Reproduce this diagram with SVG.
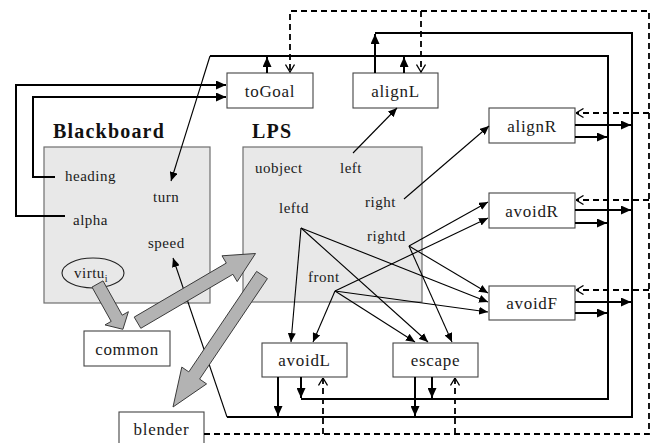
<svg xmlns="http://www.w3.org/2000/svg" width="658" height="443" viewBox="0 0 658 443">
  <style>
    .panel { fill: #e8e8e8; stroke: #6e6e6e; stroke-width: 1.2; }
    .node rect { fill: #ffffff; stroke: #444444; stroke-width: 1.1; }
    .node text { font-family: "Liberation Serif", "Times New Roman", serif; font-size: 17px; letter-spacing: 0.7px; fill: #1a1a1a; text-anchor: middle; }
    .title { font-family: "Liberation Serif", "Times New Roman", serif; font-size: 20px; letter-spacing: 1.2px; font-weight: bold; fill: #111; }
    .var { font-family: "Liberation Serif", "Times New Roman", serif; font-size: 15px; letter-spacing: 0.5px; fill: #1a1a1a; }
    .thick { fill: none; stroke: #000; stroke-width: 2; }
    .thin { fill: none; stroke: #000; stroke-width: 1.1; }
    .dash { fill: none; stroke: #000; stroke-width: 1.8; stroke-dasharray: 6 4; }
    .big { fill: #b3b3b3; stroke: #3a3a3a; stroke-width: 1; }
  </style>
  <defs>
    <marker id="ah" markerUnits="userSpaceOnUse" markerWidth="10" markerHeight="9" refX="10" refY="4.5" orient="auto">
      <path d="M0,0 L10,4.5 L0,9 z" fill="#000"/>
    </marker>
    <marker id="ahs" markerUnits="userSpaceOnUse" markerWidth="9" markerHeight="8" refX="9" refY="4" orient="auto">
      <path d="M0,0 L9,4 L0,8 z" fill="#000"/>
    </marker>
    <marker id="oa" markerUnits="userSpaceOnUse" markerWidth="9" markerHeight="10" refX="8.5" refY="5" orient="auto">
      <path d="M1,0.5 L8.5,5 L1,9.5" fill="none" stroke="#000" stroke-width="1.3"/>
    </marker>
  </defs>

  <!-- shared memory panels -->
  <g id="blackboard">
    <rect class="panel" x="44" y="147" width="166" height="156"/>
    <text class="title" x="53" y="138">Blackboard</text>
    <text class="var" x="65" y="181">heading</text>
    <text class="var" x="153" y="202">turn</text>
    <text class="var" x="73" y="225">alpha</text>
    <text class="var" x="148" y="248">speed</text>
    <ellipse cx="93" cy="273" rx="31" ry="15" fill="none" stroke="#222" stroke-width="1.1"/>
    <text class="var" x="74" y="278">virtu<tspan font-size="10" dy="4">i</tspan></text>
  </g>
  <g id="lps">
    <rect class="panel" x="243" y="147" width="179" height="155"/>
    <text class="title" x="252" y="138">LPS</text>
    <text class="var" x="255" y="173">uobject</text>
    <text class="var" x="340" y="173">left</text>
    <text class="var" x="279" y="213">leftd</text>
    <text class="var" x="365" y="207">right</text>
    <text class="var" x="367" y="241">rightd</text>
    <text class="var" x="308" y="282">front</text>
  </g>

  <!-- behaviour and system nodes -->
  <g id="toGoal" class="node"><rect x="227" y="73" width="86" height="35"/><text x="270" y="97">toGoal</text></g>
  <g id="alignL" class="node"><rect x="353" y="73" width="85" height="35"/><text x="395.5" y="97">alignL</text></g>
  <g id="alignR" class="node"><rect x="489" y="108" width="86" height="35"/><text x="532" y="132">alignR</text></g>
  <g id="avoidR" class="node"><rect x="489" y="193" width="86" height="35"/><text x="532" y="217">avoidR</text></g>
  <g id="avoidF" class="node"><rect x="489" y="286" width="86" height="34"/><text x="532" y="309">avoidF</text></g>
  <g id="avoidL" class="node"><rect x="262" y="343" width="85" height="34"/><text x="304.5" y="366">avoidL</text></g>
  <g id="escape" class="node"><rect x="393" y="343" width="85" height="34"/><text x="435.5" y="366">escape</text></g>
  <g id="common" class="node"><rect x="84" y="331" width="86" height="35"/><text x="127" y="355">common</text></g>
  <g id="blender" class="node"><rect x="119" y="412" width="85" height="35"/><text x="161.5" y="435">blender</text></g>

  <g id="connectors">
    <!-- blackboard values into toGoal -->
    <path class="thick" d="M65,216 H16 V85 H226" marker-end="url(#ah)"/>
    <path class="thick" d="M55,177 H33 V97 H226" marker-end="url(#ah)"/>

    <!-- turn bus (inner loop) -->
    <path class="thick" d="M210,56 H608 V399 H301"/>
    <path class="thin" d="M210,56 L171,181" marker-end="url(#ahs)"/>
    <!-- speed bus (outer loop) -->
    <path class="thick" d="M375,33 H632 V417 H227"/>
    <path class="thin" d="M227,417 L173,258" marker-end="url(#ahs)"/>

    <!-- behaviour outputs onto buses -->
    <path class="thick" d="M267,73 V57" marker-end="url(#ah)"/>
    <path class="thick" d="M375,73 V34" marker-end="url(#ah)"/>
    <path class="thick" d="M404,73 V57" marker-end="url(#ah)"/>
    <path class="thick" d="M575,125 H631" marker-end="url(#ah)"/>
    <path class="thick" d="M575,137 H607" marker-end="url(#ah)"/>
    <path class="thick" d="M575,210 H631" marker-end="url(#ah)"/>
    <path class="thick" d="M575,223 H607" marker-end="url(#ah)"/>
    <path class="thick" d="M575,302 H631" marker-end="url(#ah)"/>
    <path class="thick" d="M575,313 H607" marker-end="url(#ah)"/>
    <path class="thick" d="M278,377 V416" marker-end="url(#ah)"/>
    <path class="thick" d="M301,377 V398" marker-end="url(#ah)"/>
    <path class="thick" d="M415,377 V416" marker-end="url(#ah)"/>
    <path class="thick" d="M432,377 V398" marker-end="url(#ah)"/>

    <!-- LPS inputs to behaviours -->
    <path class="thin" d="M353,153 L397,108" marker-end="url(#ahs)"/>
    <path class="thin" d="M404,199 L489,126" marker-end="url(#ahs)"/>
    <path class="thin" d="M409,246 L488,202" marker-end="url(#ahs)"/>
    <path class="thin" d="M335,291 L488,218" marker-end="url(#ahs)"/>
    <path class="thin" d="M409,246 L488,293" marker-end="url(#ahs)"/>
    <path class="thin" d="M301,228 L488,302" marker-end="url(#ahs)"/>
    <path class="thin" d="M335,291 L488,312" marker-end="url(#ahs)"/>
    <path class="thin" d="M301,228 L291,342" marker-end="url(#ahs)"/>
    <path class="thin" d="M335,291 L313,342" marker-end="url(#ahs)"/>
    <path class="thin" d="M335,291 L415,342" marker-end="url(#ahs)"/>
    <path class="thin" d="M301,228 L428,342" marker-end="url(#ahs)"/>
    <path class="thin" d="M409,246 L452,342" marker-end="url(#ahs)"/>

    <!-- blender activation feedback -->
    <path class="dash" d="M204,434 H649 V11 H290 V72" marker-end="url(#oa)"/>
    <path class="dash" d="M421,11 V72" marker-end="url(#oa)"/>
    <path class="dash" d="M649,113 H576" marker-end="url(#oa)"/>
    <path class="dash" d="M649,200 H576" marker-end="url(#oa)"/>
    <path class="dash" d="M649,290 H576" marker-end="url(#oa)"/>
    <path class="dash" d="M323,434 V378" marker-end="url(#oa)"/>
    <path class="dash" d="M455,434 V378" marker-end="url(#oa)"/>

    <!-- block arrows -->
    <polygon class="big" points="103,280.9 122.2,315.2 128.4,311.7 122.9,329.3 105,324.9 111.2,321.4 92,287.1"/>
    <polygon class="big" points="134.2,317.1 226.3,263.1 222,255.8 255.5,253.5 237.2,281.6 232.9,274.3 140.8,328.3"/>
    <polygon class="big" points="256.6,271.4 267.4,278.6 199.6,379.1 206.6,383.9 173,407 181.8,367.1 188.8,371.9"/>
  </g>
</svg>
